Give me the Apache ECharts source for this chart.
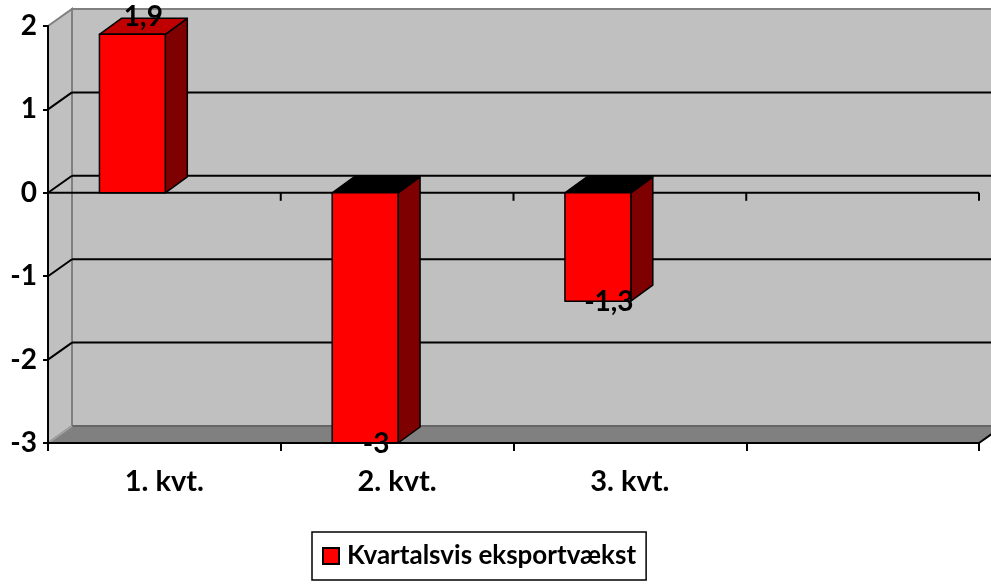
<!DOCTYPE html>
<html>
<head>
<meta charset="utf-8">
<script src="https://cdn.jsdelivr.net/npm/echarts@6/dist/echarts.min.js"></script>
<style>
html,body{margin:0;padding:0;background:#fff;}
#chart{width:991px;height:585px;}
</style>
</head>
<body>
<div id="chart"></div>
<script>
// ---- data ----
const categories = ['1. kvt.', '2. kvt.', '3. kvt.', ''];
const exportGrowth = [1.9, -3, -1.3];
const seriesName = 'Kvartalsvis eksportvækst';
const yMin = -3;
const yMax = 2;
const yInterval = 1;
const gridValues = [1, 0, -1, -2];

// ---- styling ----
const FONT = 'Lato';
const WALL_DX = 24, WALL_DY = -17;
const BAR_DX = 22, BAR_DY = -16;

const chart = echarts.init(document.getElementById('chart'), null, {renderer: 'canvas'});

function fmt(v) { return String(v).replace('.', ','); }

function renderWalls(params, api) {
  const cs = params.coordSys;
  const left = cs.x, right = cs.x + cs.width, top = cs.y, bottom = cs.y + cs.height;
  const band = api.size([1, 0])[0];
  const yAt = v => api.coord([0, v])[1];
  const children = [];
  // back wall
  children.push({type: 'rect', shape: {x: left + WALL_DX, y: top + WALL_DY, width: right - left, height: bottom - top},
    style: {fill: '#C0C0C0', stroke: '#808080', lineWidth: 2}});
  // side wall
  children.push({type: 'polygon', shape: {points: [[left, top], [left + WALL_DX, top + WALL_DY], [left + WALL_DX, bottom + WALL_DY], [left, bottom]]},
    style: {fill: '#C0C0C0', stroke: '#808080', lineWidth: 2}});
  // floor
  children.push({type: 'polygon', shape: {points: [[left, bottom], [right, bottom], [right + WALL_DX, bottom + WALL_DY], [left + WALL_DX, bottom + WALL_DY]]},
    style: {fill: '#808080', stroke: null}});
  children.push({type: 'line', shape: {x1: left + WALL_DX, y1: bottom + WALL_DY, x2: right + WALL_DX, y2: bottom + WALL_DY},
    style: {stroke: '#666666', lineWidth: 2}});
  children.push({type: 'line', shape: {x1: left, y1: bottom, x2: left + WALL_DX, y2: bottom + WALL_DY},
    style: {stroke: '#A0A0A0', lineWidth: 2}});
  children.push({type: 'line', shape: {x1: right, y1: bottom, x2: right + WALL_DX, y2: bottom + WALL_DY},
    style: {stroke: '#000', lineWidth: 2}});
  // gridlines
  gridValues.forEach(v => {
    const y = yAt(v);
    children.push({type: 'line', shape: {x1: left + WALL_DX, y1: y + WALL_DY, x2: right + WALL_DX + 10, y2: y + WALL_DY},
      style: {stroke: '#000', lineWidth: 2}});
    children.push({type: 'line', shape: {x1: left, y1: y, x2: left + WALL_DX, y2: y + WALL_DY},
      style: {stroke: '#000', lineWidth: 2}});
  });
  // zero line on front plane with ticks
  const y0 = yAt(0);
  children.push({type: 'line', shape: {x1: left, y1: y0, x2: right, y2: y0}, style: {stroke: '#000', lineWidth: 2}});
  for (let i = 1; i <= categories.length; i++) {
    const x = left + i * band;
    children.push({type: 'line', shape: {x1: x, y1: y0, x2: x, y2: y0 + 8}, style: {stroke: '#000', lineWidth: 2}});
  }
  return {type: 'group', children: children};
}

function renderBar(params, api) {
  const idx = api.value(0);
  const v = api.value(1);
  const band = api.size([1, 0])[0];
  const c0 = api.coord([idx, 0]);
  const ce = api.coord([idx, v]);
  const x0 = c0[0] - band * 0.279;
  const x1 = c0[0] + band * 0.004;
  const top = Math.min(c0[1], ce[1]);
  const bottom = Math.max(c0[1], ce[1]);
  const stroke = {stroke: '#000', lineWidth: 1.5, lineJoin: 'round'};
  const children = [
    {type: 'polygon', shape: {points: [[x1, top], [x1 + BAR_DX, top + BAR_DY], [x1 + BAR_DX, bottom + BAR_DY], [x1, bottom]]},
      style: Object.assign({fill: '#7F0000'}, stroke)},
    {type: 'polygon', shape: {points: [[x0, top], [x1, top], [x1 + BAR_DX, top + BAR_DY], [x0 + BAR_DX, top + BAR_DY]]},
      style: Object.assign({fill: v >= 0 ? '#C00000' : '#000000'}, stroke)},
    {type: 'rect', shape: {x: x0, y: top, width: x1 - x0, height: bottom - top},
      style: Object.assign({fill: '#FF0000'}, stroke)},
    {type: 'text', z2: 100,
      style: {text: fmt(v), x: (x0 + x1) / 2 + BAR_DX / 2,
        y: ce[1] + BAR_DY / 2 + (v >= 0 ? -9 : 9),
        align: 'center', verticalAlign: 'middle',
        fill: '#000', font: 'bold 28px ' + FONT}}
  ];
  return {type: 'group', children: children};
}

const option = {
  animation: false,
  backgroundColor: '#fff',
  grid: {left: 48, right: 12, top: 26, bottom: 142, containLabel: false},
  xAxis: {
    type: 'category', data: categories, z: 10,
    axisLine: {onZero: false, lineStyle: {color: '#000', width: 2}},
    axisTick: {show: true, length: 8, lineStyle: {color: '#000', width: 2}},
    axisLabel: {color: '#000', fontFamily: FONT, fontWeight: 'bold', fontSize: 29, margin: 24, interval: 0},
    splitLine: {show: false}
  },
  yAxis: {
    type: 'value', min: yMin, max: yMax, interval: yInterval, z: 10,
    axisLine: {show: true, lineStyle: {color: '#000', width: 2}},
    axisTick: {show: true, length: 5, lineStyle: {color: '#000', width: 2}},
    axisLabel: {color: '#000', fontFamily: FONT, fontWeight: 'bold', fontSize: 28, margin: 11},
    splitLine: {show: false}
  },
  legend: {
    show: true, left: 312, top: 532,
    data: [{name: seriesName, icon: 'rect'}],
    itemWidth: 16, itemHeight: 16,
    padding: [9, 10, 9, 10],
    borderColor: '#000', borderWidth: 1.5, backgroundColor: '#fff',
    textStyle: {color: '#000', fontFamily: FONT, fontWeight: 'bold', fontSize: 26, lineHeight: 30, padding: [0, 0, 0, 3]},
    selectedMode: false
  },
  series: [
    {type: 'custom', name: 'walls', renderItem: renderWalls, data: [[0, 0]], z: 1, silent: true,
      clip: false, legendHoverLink: false},
    {type: 'custom', name: seriesName, renderItem: renderBar, z: 5, clip: false,
      itemStyle: {color: '#FF0000', borderColor: '#000', borderWidth: 1},
      data: exportGrowth.map((v, i) => [i, v])}
  ]
};
chart.setOption(option);
</script>
</body>
</html>
